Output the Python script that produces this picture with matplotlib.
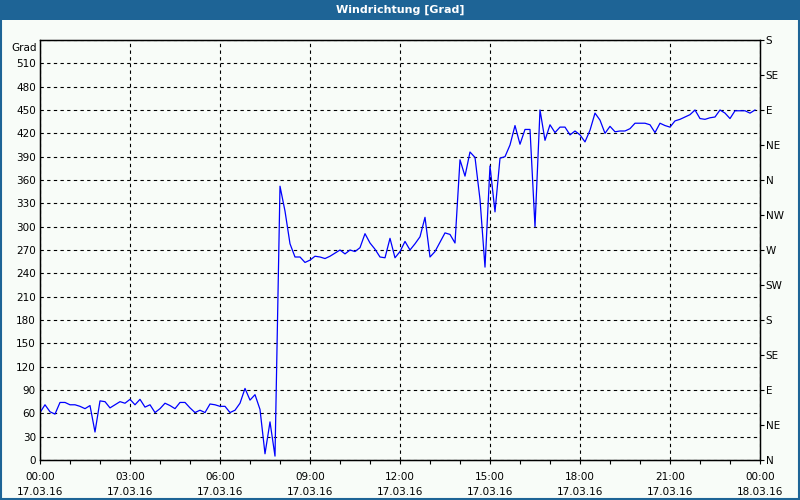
import matplotlib
matplotlib.use("Agg")
import matplotlib.pyplot as plt
from matplotlib.patches import Rectangle
import numpy as np

title = "Windrichtung [Grad]"
y_unit = "Grad"

# wind direction in degrees, one sample every 10 minutes from 00:00 to 23:50
values = [
    61, 71, 62, 59, 74, 74, 71, 71, 69, 66, 70, 36, 76, 75, 67, 71, 75, 73, 78, 71,
    78, 68, 71, 61, 66, 73, 70, 66, 74, 74, 67, 61, 64, 61, 72, 71, 69, 69, 61, 64,
    73, 92, 77, 84, 65, 8, 49, 5, 352, 320, 278, 261, 261, 254, 257, 262, 261, 259, 262, 266,
    270, 265, 270, 268, 273, 291, 279, 271, 261, 260, 285, 260, 268, 281, 270, 278, 287, 312, 261, 268,
    280, 292, 290, 279, 386, 365, 396, 389, 335, 248, 378, 319, 388, 390, 405, 430, 406, 425, 425, 300,
    450, 411, 431, 421, 428, 428, 418, 423, 418, 409, 424, 446, 437, 420, 429, 422, 423, 423, 426, 433,
    433, 433, 431, 421, 433, 430, 428, 436, 438, 441, 444, 450, 439, 438, 440, 441, 450, 446, 439, 449,
    449, 449, 446, 450,
]
sample_minutes = 10

x_ticks_h = [0, 3, 6, 9, 12, 15, 18, 21, 24]
x_tick_labels = ["00:00\n17.03.16", "03:00\n17.03.16", "06:00\n17.03.16", "09:00\n17.03.16",
                 "12:00\n17.03.16", "15:00\n17.03.16", "18:00\n17.03.16", "21:00\n17.03.16",
                 "00:00\n18.03.16"]
y_ticks = list(range(0, 541, 30))
y_tick_labels = [str(v) for v in y_ticks[:-1]] + [""]
compass_ticks = list(range(0, 541, 45))
compass_labels = ["N", "NE", "E", "SE", "S", "SW", "W", "NW", "N", "NE", "E", "SE", "S"]

hours = np.arange(len(values)) * sample_minutes / 60.0

bg = "#f8fcf8"
bar = "#1e6496"
fig = plt.figure(figsize=(8, 5), dpi=100, facecolor=bg)
fig.patches.append(Rectangle((0, 0.96), 1, 0.04, transform=fig.transFigure,
                             facecolor=bar, edgecolor="none", zorder=0))
fig.patches.append(Rectangle((0.001, 0.002), 0.998, 0.996, transform=fig.transFigure,
                             facecolor="none", edgecolor=bar, linewidth=1.5, zorder=5))
fig.text(0.5, 0.981, title, color="white", ha="center", va="center",
         fontsize=8, fontweight="bold", family="DejaVu Sans")

ax = fig.add_axes([0.05, 0.08, 0.90, 0.84])
ax.set_facecolor(bg)
ax.plot(hours, values, color="#0000ff", linewidth=0.9, zorder=3)
ax.set_xlim(0, 24)
ax.set_ylim(0, 540)

ax.set_xticks(x_ticks_h)
ax.set_xticklabels(x_tick_labels, fontsize=7.5, linespacing=1.6)
ax.set_xticks(np.arange(0, 25, 1), minor=True)
ax.set_yticks(y_ticks)
ax.set_yticklabels(y_tick_labels, fontsize=7.5)
ax.tick_params(axis="x", which="both", direction="out", length=3, width=0.8, pad=6)
ax.tick_params(axis="y", direction="out", length=0, pad=3)

ax.grid(True, which="major", color="black", linestyle=(0, (3, 3)), linewidth=0.8)
for s in ax.spines.values():
    s.set_linewidth(1.0)
    s.set_color("black")

ax2 = ax.twinx()
ax2.set_ylim(0, 540)
ax2.set_yticks(compass_ticks)
ax2.set_yticklabels(compass_labels, fontsize=7.5)
ax2.tick_params(axis="y", direction="out", length=3, width=0.8, pad=1)

ax.text(-0.004, 0.992, y_unit, transform=ax.transAxes, ha="right", va="top", fontsize=7.5)

fig.savefig("out.png", dpi=100, facecolor=bg)
